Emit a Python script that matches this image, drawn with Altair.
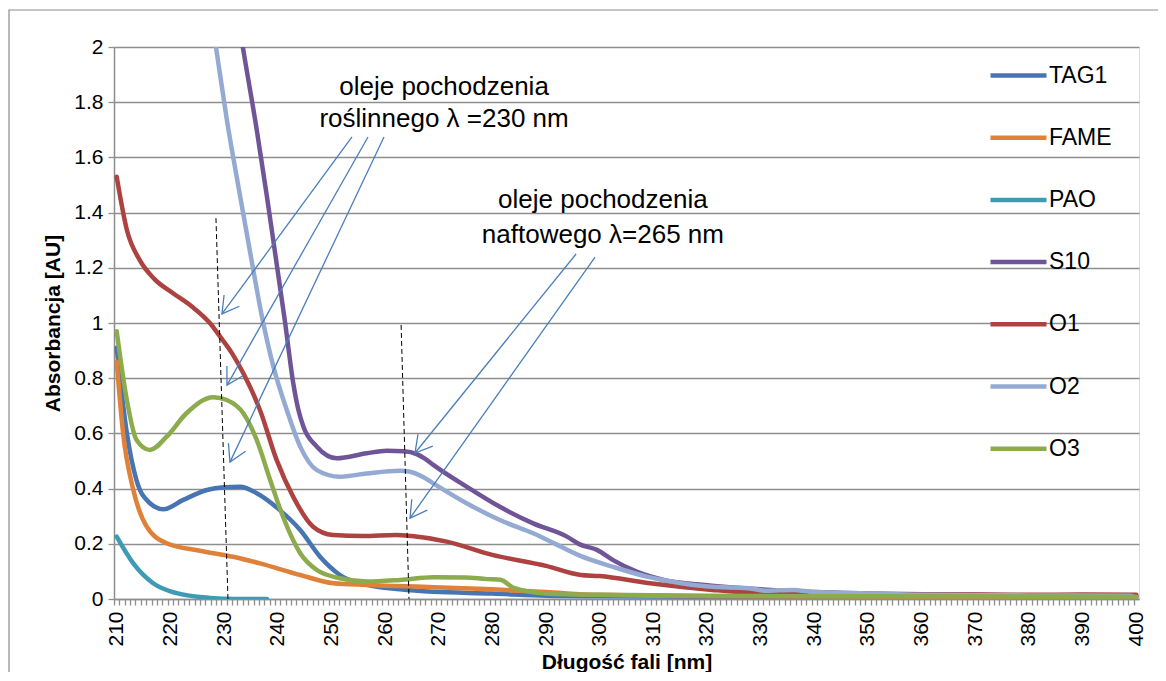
import math
import altair as alt
import pandas as pd

# ---------------- data ----------------
series_names = ["TAG1", "FAME", "PAO", "S10", "O1", "O2", "O3"]
series_colors = ["#4675B2", "#E0813A", "#3E9BB5", "#6F5597", "#AC4340", "#94AAD2", "#8BAB4D"]

tag1_x = [210, 211.9, 213.7, 216.2, 218.7, 222.4, 226.8, 230, 233.0, 236.1, 240.4, 244.2, 247.9, 251.6,
          256.6, 262.8, 269.0, 280, 290, 300, 320, 350, 400]
tag1_y = [0.91, 0.60, 0.43, 0.347, 0.325, 0.359, 0.395, 0.405, 0.407, 0.383, 0.322, 0.25, 0.153, 0.087,
          0.051, 0.035, 0.026, 0.02, 0.012, 0.01, 0.008, 0.007, 0.005]

fame_x = [210, 211.2, 213.1, 215.6, 219.3, 225.5, 231.7, 236.7, 244.2, 250.4, 256.6, 269.0, 280, 290,
          300, 320, 400]
fame_y = [0.86, 0.60, 0.395, 0.262, 0.202, 0.175, 0.153, 0.129, 0.087, 0.057, 0.051, 0.043, 0.035, 0.025,
          0.015, 0.01, 0.008]

pao_x = [210, 213.1, 216.8, 221.2, 227.4, 232, 238]
pao_y = [0.226, 0.129, 0.057, 0.021, 0.004, 0.0, 0.0]

s10_x = [232.5, 233.5, 236.1, 238.0, 239.8, 241.4, 242.9, 243.8, 244.8, 247.3, 251.0, 256.6, 260.3, 263.5,
         265.9, 267.5, 269.0, 275.2, 281.4, 287.6, 293.9, 296.3, 299.5, 302.5, 306.9, 311.9, 320, 330, 340,
         350, 370, 400]
s10_y = [2.12, 2.0, 1.70, 1.458, 1.216, 0.999, 0.782, 0.69, 0.624, 0.552, 0.51, 0.528, 0.537, 0.535,
         0.525, 0.508, 0.486, 0.407, 0.334, 0.274, 0.226, 0.198, 0.178, 0.141, 0.099, 0.069, 0.05, 0.035,
         0.025, 0.02, 0.015, 0.01]

o1_x = [210, 211.9, 214.3, 217, 220.5, 224, 227.4, 229.3, 231.5, 233.6, 236.7, 239.8, 242.9, 246.6,
        250.3, 256, 262, 265, 271.5, 280, 290, 296.5, 300, 309, 321, 331, 340, 350, 360, 370, 380, 390, 400]
o1_y = [1.53, 1.337, 1.228, 1.16, 1.108, 1.06, 0.999, 0.95, 0.89, 0.818, 0.685, 0.504, 0.37, 0.262,
        0.232, 0.228, 0.232, 0.228, 0.208, 0.16, 0.12, 0.087, 0.083, 0.058, 0.033, 0.02, 0.018, 0.017,
        0.016, 0.016, 0.015, 0.016, 0.015]

o2_x = [227.3, 228.5, 230.5, 233.0, 235.2, 237.0, 239.2, 241.7, 244.2, 247.3, 251.6, 256.6, 262.8, 264.5,
        267.0, 269.0, 275.2, 281.4, 287.6, 292, 296.4, 302.4, 309, 315, 321, 327.4, 331, 336, 340, 350,
        360, 380, 399, 400]
o2_y = [2.15, 2.0, 1.74, 1.46, 1.22, 1.03, 0.842, 0.685, 0.552, 0.467, 0.443, 0.455, 0.465, 0.462,
        0.443, 0.419, 0.347, 0.286, 0.238, 0.197, 0.156, 0.117, 0.08, 0.058, 0.044, 0.04, 0.03, 0.033,
        0.025, 0.02, 0.015, 0.013, 0.012, 0.003]

o3_x = [210, 211.9, 213.7, 216.2, 219.3, 223.0, 228.0, 230.5, 233.6, 236.1, 238.6, 241.0, 244.2, 247.3,
        251.6, 256.6, 262.8, 269.0, 275, 279, 281.5, 284, 290, 300, 320, 350, 400]
o3_y = [0.97, 0.72, 0.576, 0.54, 0.588, 0.673, 0.731, 0.721, 0.673, 0.576, 0.431, 0.298, 0.166, 0.105,
        0.075, 0.063, 0.069, 0.079, 0.078, 0.072, 0.07, 0.04, 0.02, 0.015, 0.012, 0.01, 0.008]

all_x = [tag1_x, fame_x, pao_x, s10_x, o1_x, o2_x, o3_x]
all_y = [tag1_y, fame_y, pao_y, s10_y, o1_y, o2_y, o3_y]

x_ticks = list(range(210, 402))
y_ticks = [0, 0.2, 0.4, 0.6, 0.8, 1.0, 1.2, 1.4, 1.6, 1.8, 2.0]

# annotations (data coordinates)
ann_text = ["oleje pochodzenia", "roślinnego λ =230 nm", "oleje pochodzenia", "naftowego λ=265 nm"]
ann_x = [271.0, 271.0, 300.6, 300.6]
ann_y = [1.826, 1.710, 1.417, 1.290]

arrow_x0 = [253.85, 256.83, 259.81, 295.60, 299.14]
arrow_y0 = [1.674, 1.674, 1.674, 1.250, 1.239]
arrow_x1 = [229.62, 230.56, 231.11, 265.59, 264.66]
arrow_y1 = [1.033, 0.775, 0.496, 0.529, 0.293]

dash_x0 = [228.5, 263.0]
dash_y0 = [1.38, 0.993]
dash_x1 = [230.74, 264.47]
dash_y1 = [0.0, 0.0]

# ---------------- layout ----------------
W, H = 1025, 552
X_DOM = [209.5, 400.5]
Y_DOM = [0, 2]
FONT = "Liberation Sans"
GRID = "#8E8E8E"

rows = []
for name, xs, ys in zip(series_names, all_x, all_y):
    for xv, yv in zip(xs, ys):
        rows.append({"series": name, "nm": xv, "abs": yv})
df = pd.DataFrame(rows)

xscale = alt.Scale(domain=X_DOM, nice=False, zero=False)
yscale = alt.Scale(domain=Y_DOM, nice=False)

x_axis = alt.Axis(
    values=x_ticks, tickCount=1000, format="d", title="Długość fali [nm]",
    labelExpr="(datum.value % 10 == 0 && datum.value <= 400) ? datum.label : ''",
    labelAngle=270, labelFontSize=21, labelFont=FONT, labelColor="black",
    labelOverlap=False, labelFlush=False, labelBound=False, labelPadding=6,
    tickOffset=-2.68, labelOffset=2.68,
    ticks=True, tickSize=6, tickColor=GRID, tickWidth=1.3,
    domain=True, domainColor=GRID, domainWidth=1.5, grid=False,
    titleFontSize=21, titleFont=FONT, titleFontWeight="bold", titleColor="black",
    titleBaseline="alphabetic", titleY=69,
)
y_axis = alt.Axis(
    values=y_ticks, format=".1~f", title="Absorbancja [AU]",
    labelFontSize=21, labelFont=FONT, labelColor="black", labelPadding=5,
    ticks=True, tickSize=6, tickColor=GRID, tickWidth=1.3,
    domain=True, domainColor=GRID, domainWidth=1.5,
    grid=True, gridColor=GRID, gridWidth=1.5,
    titleFontSize=21, titleFont=FONT, titleFontWeight="bold", titleColor="black", titlePadding=10,
)

lines = alt.Chart(df).mark_line(strokeWidth=4.5, interpolate="monotone", clip=True, strokeCap="round").encode(
    x=alt.X("nm:Q", scale=xscale, axis=x_axis),
    y=alt.Y("abs:Q", scale=yscale, axis=y_axis),
    color=alt.Color(
        "series:N",
        scale=alt.Scale(domain=series_names, range=series_colors),
        sort=series_names,
        legend=alt.Legend(
            orient="none", legendX=874, legendY=-2, title=None,
            symbolType="stroke", symbolSize=3136, symbolStrokeWidth=4.5,
            labelFontSize=23, labelFont=FONT, labelColor="black", labelOffset=0,
            rowPadding=19.2, padding=0, labelLimit=0,
        ),
    ),
)

# outer chart border (decoration)
border = alt.Chart(pd.DataFrame({"b": [0]})).mark_rect(
    fillOpacity=0, stroke="#8C8C8C", strokeWidth=1.2
).encode(x=alt.value(-105), x2=alt.value(1200), y=alt.value(-37), y2=alt.value(800))

dash_df = pd.DataFrame({"x0": dash_x0, "y0": dash_y0, "x1": dash_x1, "y1": dash_y1})
dashes = alt.Chart(dash_df).mark_rule(color="black", strokeWidth=1, strokeDash=[5, 3]).encode(
    x=alt.X("x0:Q", scale=xscale), y=alt.Y("y0:Q", scale=yscale),
    x2="x1:Q", y2="y1:Q",
)

px_per_nm = W / (X_DOM[1] - X_DOM[0])
px_per_au = H / (Y_DOM[1] - Y_DOM[0])
angles = []
for a, b, c, d in zip(arrow_x0, arrow_y0, arrow_x1, arrow_y1):
    dx = (c - a) * px_per_nm
    dy = -(d - b) * px_per_au
    angles.append(math.degrees(math.atan2(dy, dx)) % 360)

arr_df = pd.DataFrame({"x0": arrow_x0, "y0": arrow_y0, "x1": arrow_x1, "y1": arrow_y1, "ang": angles})
ARROW = "#4A7EBB"
shafts = alt.Chart(arr_df).mark_rule(color=ARROW, strokeWidth=1.3).encode(
    x=alt.X("x0:Q", scale=xscale), y=alt.Y("y0:Q", scale=yscale),
    x2="x1:Q", y2="y1:Q",
)
heads = alt.Chart(arr_df).mark_point(
    shape="M-0.866,-0.5L0,0L-0.866,0.5", filled=False, size=1444,
    color=ARROW, strokeWidth=1.3, opacity=1,
).encode(
    x=alt.X("x1:Q", scale=xscale), y=alt.Y("y1:Q", scale=yscale),
    angle=alt.Angle("ang:Q", scale=None),
)

txt_df = pd.DataFrame({"t": ann_text, "x": ann_x, "y": ann_y})
texts = alt.Chart(txt_df).mark_text(
    font=FONT, fontSize=26, align="center", baseline="alphabetic", color="black"
).encode(
    x=alt.X("x:Q", scale=xscale), y=alt.Y("y:Q", scale=yscale), text="t:N",
)

chart = alt.layer(border, lines, dashes, shafts, heads, texts).properties(
    width=W, height=H,
    autosize=alt.AutoSizeParams(type="none"),
    padding={"left": 106, "top": 39, "right": 19, "bottom": 73},
).configure_view(stroke=None).configure(background="white")

chart.save("out.html", embed_options={"renderer": "svg", "actions": False})
